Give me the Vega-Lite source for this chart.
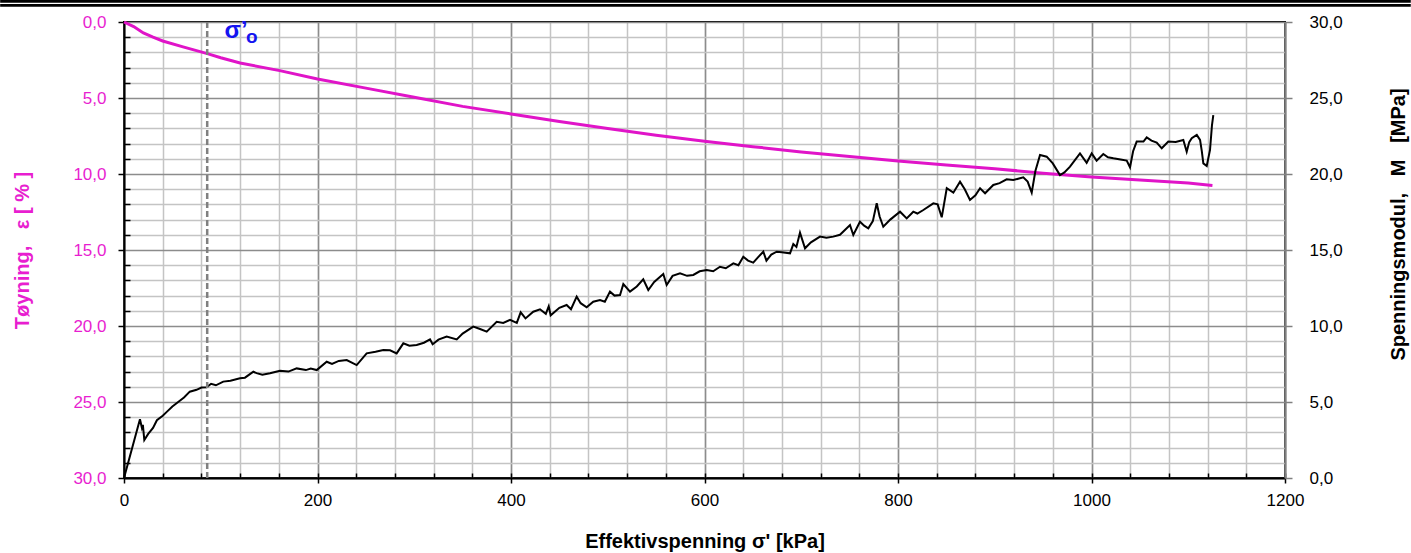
{
  "$schema": "https://vega.github.io/schema/vega-lite/v6.json",
  "width": 1161,
  "height": 456,
  "autosize": {"type": "none"},
  "padding": {"left": 124, "top": 22, "right": 126, "bottom": 75},
  "background": "white",
  "config": {
    "view": {"stroke": "black", "strokeWidth": 2},
    "font": "Liberation Sans",
    "axis": {"labelFont": "Liberation Sans", "titleFont": "Liberation Sans"}
  },
  "datasets": {
    "strain": [
      {"s": 0, "e": 0}, {"s": 10, "e": 0.3}, {"s": 20, "e": 0.72}, {"s": 30, "e": 1.0}, {"s": 40, "e": 1.25},
      {"s": 61, "e": 1.64}, {"s": 87, "e": 2.1}, {"s": 100, "e": 2.35}, {"s": 120, "e": 2.7}, {"s": 161, "e": 3.2},
      {"s": 200, "e": 3.75}, {"s": 250, "e": 4.35}, {"s": 300, "e": 4.95}, {"s": 350, "e": 5.55}, {"s": 400, "e": 6.05},
      {"s": 450, "e": 6.55}, {"s": 500, "e": 7.0}, {"s": 550, "e": 7.45}, {"s": 600, "e": 7.85}, {"s": 650, "e": 8.2},
      {"s": 700, "e": 8.55}, {"s": 750, "e": 8.85}, {"s": 800, "e": 9.15}, {"s": 850, "e": 9.4}, {"s": 900, "e": 9.65},
      {"s": 950, "e": 9.95}, {"s": 1000, "e": 10.2}, {"s": 1050, "e": 10.4}, {"s": 1100, "e": 10.6}, {"s": 1125, "e": 10.75}
    ],
    "modulus": [
      {"s": 0, "m": 0}, {"s": 16.5, "m": 3.86}, {"s": 18.5, "m": 3.3}, {"s": 19.5, "m": 3.5}, {"s": 21, "m": 2.5},
      {"s": 25, "m": 2.9}, {"s": 30, "m": 3.3}, {"s": 34, "m": 3.8}, {"s": 40, "m": 4.1}, {"s": 45, "m": 4.4},
      {"s": 50, "m": 4.7}, {"s": 54, "m": 4.9}, {"s": 62, "m": 5.3}, {"s": 68, "m": 5.68}, {"s": 75, "m": 5.8},
      {"s": 80, "m": 5.95}, {"s": 85.5, "m": 5.97}, {"s": 90, "m": 6.2}, {"s": 95, "m": 6.1}, {"s": 102.6, "m": 6.34},
      {"s": 110, "m": 6.4}, {"s": 119.9, "m": 6.56}, {"s": 125, "m": 6.6}, {"s": 133.7, "m": 6.99}, {"s": 137, "m": 6.9},
      {"s": 143, "m": 6.8}, {"s": 150.9, "m": 6.89}, {"s": 161.2, "m": 7.06}, {"s": 170, "m": 7.0}, {"s": 178.5, "m": 7.21},
      {"s": 188, "m": 7.1}, {"s": 193, "m": 7.2}, {"s": 199.2, "m": 7.1}, {"s": 209.5, "m": 7.65}, {"s": 215, "m": 7.5},
      {"s": 222, "m": 7.7}, {"s": 230.2, "m": 7.76}, {"s": 240.5, "m": 7.43}, {"s": 250.8, "m": 8.2}, {"s": 260, "m": 8.3},
      {"s": 268, "m": 8.42}, {"s": 275, "m": 8.4}, {"s": 281.8, "m": 8.2}, {"s": 288.7, "m": 8.86}, {"s": 295, "m": 8.7},
      {"s": 302.5, "m": 8.75}, {"s": 310, "m": 8.9}, {"s": 316.3, "m": 9.12}, {"s": 319, "m": 8.8}, {"s": 325, "m": 9.1},
      {"s": 333.5, "m": 9.3}, {"s": 343.9, "m": 9.12}, {"s": 350, "m": 9.5}, {"s": 361, "m": 9.96}, {"s": 368, "m": 9.8},
      {"s": 374.9, "m": 9.63}, {"s": 385.2, "m": 10.28}, {"s": 392, "m": 10.2}, {"s": 399, "m": 10.4}, {"s": 406, "m": 10.2},
      {"s": 410, "m": 10.9}, {"s": 415, "m": 10.5}, {"s": 423, "m": 10.94}, {"s": 430, "m": 11.1}, {"s": 436, "m": 10.8},
      {"s": 439, "m": 11.3}, {"s": 441, "m": 10.7}, {"s": 450, "m": 11.2}, {"s": 457.5, "m": 11.38}, {"s": 462, "m": 11.1},
      {"s": 467.9, "m": 11.93}, {"s": 472, "m": 11.5}, {"s": 478.2, "m": 11.23}, {"s": 485, "m": 11.6}, {"s": 492, "m": 11.71},
      {"s": 497, "m": 11.6}, {"s": 502.3, "m": 12.26}, {"s": 507, "m": 12.0}, {"s": 512.7, "m": 12.04}, {"s": 516.1, "m": 12.76},
      {"s": 523, "m": 12.26}, {"s": 530, "m": 12.6}, {"s": 536.7, "m": 13.07}, {"s": 541.9, "m": 12.37}, {"s": 548, "m": 12.9},
      {"s": 557.4, "m": 13.42}, {"s": 560.9, "m": 12.7}, {"s": 567, "m": 13.3}, {"s": 574.7, "m": 13.47}, {"s": 582, "m": 13.3},
      {"s": 588.4, "m": 13.36}, {"s": 595, "m": 13.6}, {"s": 602.3, "m": 13.68}, {"s": 609, "m": 13.6}, {"s": 616, "m": 13.9},
      {"s": 622, "m": 13.8}, {"s": 629.8, "m": 14.12}, {"s": 635, "m": 14.0}, {"s": 640.1, "m": 14.56}, {"s": 645, "m": 14.3},
      {"s": 650.4, "m": 14.17}, {"s": 655, "m": 14.5}, {"s": 660.8, "m": 14.89}, {"s": 664, "m": 14.3}, {"s": 669, "m": 14.7},
      {"s": 674.6, "m": 14.89}, {"s": 680, "m": 14.85}, {"s": 688.4, "m": 14.78}, {"s": 691.8, "m": 15.39}, {"s": 695, "m": 15.2},
      {"s": 698.7, "m": 16.14}, {"s": 703.9, "m": 15.11}, {"s": 710, "m": 15.5}, {"s": 719.4, "m": 15.88}, {"s": 726, "m": 15.8},
      {"s": 733.1, "m": 15.88}, {"s": 740, "m": 16.0}, {"s": 750.4, "m": 16.64}, {"s": 753.8, "m": 15.99}, {"s": 760.7, "m": 16.86},
      {"s": 765, "m": 16.6}, {"s": 769.3, "m": 16.43}, {"s": 774, "m": 16.9}, {"s": 778, "m": 18.07}, {"s": 781, "m": 17.2},
      {"s": 784.8, "m": 16.53}, {"s": 792, "m": 17.0}, {"s": 802.1, "m": 17.52}, {"s": 809, "m": 17.08}, {"s": 815.8, "m": 17.52},
      {"s": 820, "m": 17.4}, {"s": 826.2, "m": 17.63}, {"s": 836.5, "m": 18.07}, {"s": 841, "m": 18.0}, {"s": 845.2, "m": 17.15},
      {"s": 850.4, "m": 19.06}, {"s": 857.2, "m": 18.77}, {"s": 864.1, "m": 19.49}, {"s": 869, "m": 19.0}, {"s": 874.4, "m": 18.29},
      {"s": 880, "m": 18.6}, {"s": 884.8, "m": 19.06}, {"s": 890, "m": 18.73}, {"s": 898.5, "m": 19.28}, {"s": 905, "m": 19.4},
      {"s": 912.3, "m": 19.65}, {"s": 919.2, "m": 19.6}, {"s": 929.5, "m": 19.78}, {"s": 934, "m": 19.5}, {"s": 938.2, "m": 18.77},
      {"s": 942, "m": 20.2}, {"s": 946.8, "m": 21.25}, {"s": 953.7, "m": 21.14}, {"s": 960, "m": 20.7}, {"s": 967.4, "m": 19.93},
      {"s": 972, "m": 20.1}, {"s": 977.8, "m": 20.48}, {"s": 988.1, "m": 21.36}, {"s": 995, "m": 20.74}, {"s": 1000.2, "m": 21.36},
      {"s": 1005.3, "m": 20.88}, {"s": 1012.2, "m": 21.32}, {"s": 1017, "m": 21.1}, {"s": 1022.6, "m": 21.03}, {"s": 1030, "m": 20.95},
      {"s": 1036.4, "m": 20.88}, {"s": 1039.8, "m": 20.44}, {"s": 1043, "m": 21.5}, {"s": 1046.7, "m": 22.13}, {"s": 1053.7, "m": 22.13},
      {"s": 1057.1, "m": 22.41}, {"s": 1062, "m": 22.2}, {"s": 1067.4, "m": 22.06}, {"s": 1072.6, "m": 21.69}, {"s": 1079.4, "m": 22.13},
      {"s": 1087, "m": 22.1}, {"s": 1094.9, "m": 22.24}, {"s": 1098.4, "m": 21.47}, {"s": 1101, "m": 22.1}, {"s": 1103.6, "m": 22.35},
      {"s": 1108.8, "m": 22.57}, {"s": 1112.2, "m": 22.24}, {"s": 1114, "m": 21.5}, {"s": 1115.6, "m": 20.7}, {"s": 1119.1, "m": 20.53},
      {"s": 1122.5, "m": 21.58}, {"s": 1124.5, "m": 23.2}, {"s": 1125.9, "m": 23.88}
    ],
    "preconsolidation": [{"s": 86}]
  },
  "layer": [
    {
      "data": {"name": "strain"},
      "mark": {"type": "line", "color": "#e014c8", "strokeWidth": 3, "clip": false},
      "encoding": {
        "x": {
          "field": "s", "type": "quantitative",
          "scale": {"domain": [0, 1200], "nice": false, "zero": false},
          "axis": {
            "orient": "bottom",
            "values": [0, 40, 80, 120, 160, 200, 240, 280, 320, 360, 400, 440, 480, 520, 560, 600, 640, 680, 720, 760, 800, 840, 880, 920, 960, 1000, 1040, 1080, 1120, 1160, 1200],
            "grid": true,
            "gridColor": "#c4c4c4",
            "gridWidth": 1.5,
            "ticks": true,
            "tickSize": -5,
            "tickColor": "black",
            "tickWidth": 1.5,
            "domain": false,
            "labels": false,
            "title": null
          }
        },
        "y": {
          "field": "e", "type": "quantitative",
          "scale": {"domain": [0, 30], "reverse": true, "nice": false, "zero": false},
          "axis": {
            "orient": "left",
            "values": [0, 1, 2, 3, 4, 5, 6, 7, 8, 9, 10, 11, 12, 13, 14, 15, 16, 17, 18, 19, 20, 21, 22, 23, 24, 25, 26, 27, 28, 29, 30],
            "grid": true,
            "gridColor": {"condition": {"test": "datum.value % 5 === 0", "value": "#8c8c8c"}, "value": "#c4c4c4"},
            "gridWidth": 1.5,
            "tickSize": {"condition": {"test": "datum.value % 5 === 0", "value": 6}, "value": -6},
            "tickColor": "black",
            "tickWidth": 1.5,
            "domainColor": "black",
            "domainWidth": 2,
            "labelExpr": "datum.value % 5 === 0 ? replace(format(datum.value, '.1f'), '.', ',') : ''",
            "labelOverlap": false,
            "labelFlush": false,
            "labelFontSize": 17,
            "labelColor": "#e81ed0",
            "labelPadding": 12,
            "title": "Tøyning,\u00a0\u00a0\u00a0ε [ % ]",
            "titleFontSize": 20,
            "titleFontWeight": "bold",
            "titleColor": "#e81ed0",
            "titlePadding": 40
          }
        }
      }
    },
    {
      "data": {"name": "modulus"},
      "mark": {"type": "line", "color": "black", "strokeWidth": 2, "clip": false},
      "encoding": {
        "x": {
          "field": "s", "type": "quantitative",
          "scale": {"domain": [0, 1200], "nice": false, "zero": false},
          "axis": {
            "orient": "bottom",
            "values": [0, 200, 400, 600, 800, 1000, 1200],
            "grid": true,
            "gridColor": "#8c8c8c",
            "gridWidth": 1.5,
            "tickSize": 5,
            "tickColor": "black",
            "tickWidth": 1.5,
            "domainColor": "black",
            "domainWidth": 2,
            "labelOverlap": false,
            "labelFlush": false,
            "labelExpr": "'' + datum.value",
            "labelFontSize": 17,
            "labelColor": "black",
            "labelPadding": 9,
            "title": "Effektivspenning σ' [kPa]",
            "titleFontSize": 20,
            "titleFontWeight": "bold",
            "titleColor": "black",
            "titlePadding": 23
          }
        },
        "y": {
          "field": "m", "type": "quantitative",
          "scale": {"domain": [0, 30], "nice": false, "zero": false},
          "axis": {
            "orient": "right",
            "values": [0, 5, 10, 15, 20, 25, 30],
            "grid": false,
            "tickSize": 7,
            "tickColor": "#808080",
            "tickWidth": 1.5,
            "domainColor": "#808080",
            "domainWidth": 2,
            "labelExpr": "replace(format(datum.value, '.1f'), '.', ',')",
            "labelOverlap": false,
            "labelFlush": false,
            "labelFontSize": 17,
            "labelColor": "black",
            "labelPadding": 17,
            "title": "Spenningsmodul,\u00a0\u00a0\u00a0M\u00a0\u00a0\u00a0[MPa]",
            "titleFontSize": 20,
            "titleFontWeight": "bold",
            "titleColor": "black",
            "titleAngle": 270,
            "titlePadding": 66,
            "titleY": 202
          }
        }
      }
    },
    {
      "data": {"name": "preconsolidation"},
      "mark": {"type": "rule", "color": "#808080", "strokeWidth": 2.5, "strokeDash": [6, 3]},
      "encoding": {
        "x": {"field": "s", "type": "quantitative", "scale": {"domain": [0, 1200], "nice": false, "zero": false}, "axis": null}
      }
    },
    {
      "data": {"values": [{}]},
      "mark": {"type": "rule", "color": "black", "strokeWidth": 2.7, "clip": false},
      "encoding": {
        "x": {"datum": -128, "type": "quantitative", "scale": {"domain": [0, 1200], "nice": false, "zero": false}, "axis": null},
        "x2": {"datum": 1330},
        "y": {"datum": -1.36, "type": "quantitative", "scale": {"domain": [0, 30], "reverse": true, "nice": false, "zero": false}, "axis": null}
      }
    },
    {
      "data": {"values": [{}]},
      "mark": {"type": "rule", "color": "black", "strokeWidth": 2.7, "clip": false},
      "encoding": {
        "x": {"datum": -128, "type": "quantitative", "scale": {"domain": [0, 1200], "nice": false, "zero": false}, "axis": null},
        "x2": {"datum": 1330},
        "y": {"datum": -1.097, "type": "quantitative", "scale": {"domain": [0, 30], "reverse": true, "nice": false, "zero": false}, "axis": null}
      }
    },
    {
      "data": {"values": [{}]},
      "mark": {"type": "text", "text": "σ’", "color": "#1414f0", "font": "Liberation Sans", "fontSize": 24, "fontWeight": "bold", "align": "left", "baseline": "alphabetic"},
      "encoding": {
        "x": {"datum": 104, "type": "quantitative", "scale": {"domain": [0, 1200], "nice": false, "zero": false}, "axis": null},
        "y": {"datum": 1.05, "type": "quantitative", "scale": {"domain": [0, 30], "reverse": true, "nice": false, "zero": false}, "axis": null}
      }
    },
    {
      "data": {"values": [{}]},
      "mark": {"type": "text", "text": "o", "color": "#1414f0", "font": "Liberation Sans", "fontSize": 19, "fontWeight": "bold", "align": "left", "baseline": "alphabetic"},
      "encoding": {
        "x": {"datum": 126, "type": "quantitative", "scale": {"domain": [0, 1200], "nice": false, "zero": false}, "axis": null},
        "y": {"datum": 1.38, "type": "quantitative", "scale": {"domain": [0, 30], "reverse": true, "nice": false, "zero": false}, "axis": null}
      }
    }
  ],
  "resolve": {"scale": {"y": "independent"}, "axis": {"x": "independent", "y": "independent"}}
}
